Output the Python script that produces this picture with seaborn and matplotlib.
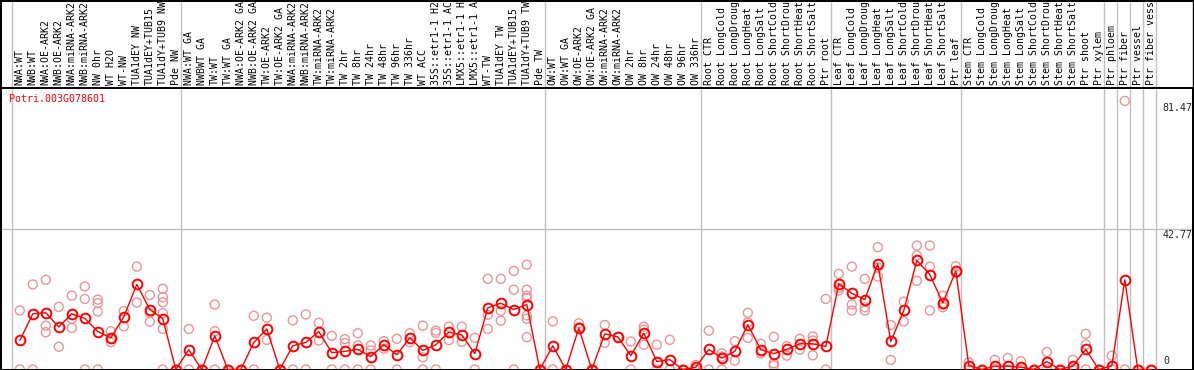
import matplotlib
matplotlib.use("Agg")
import matplotlib.pyplot as plt
import matplotlib.transforms as mtransforms
from matplotlib.lines import Line2D
import numpy as np
import pandas as pd
import seaborn as sns

# ---------------- data ----------------
categories = [
    "NWA:WT", "NWB:WT", "NWA:OE-ARK2", "NWB:OE-ARK2", "NWA:miRNA-ARK2", "NWB:miRNA-ARK2",
    "NW 0hr", "WT H2O", "WT-NW", "TUA1dEY NW", "TUA1dEY+TUB15", "TUA1dY+TUB9 NW", "Pde NW",
    "NWA:WT GA", "NWBWT GA", "TW:WT", "TW:WT GA", "NWA:OE-ARK2 GA", "NWB:OE-ARK2 GA",
    "TW:OE-ARK2", "TW:OE-ARK2 GA", "NWA:miRNA-ARK2", "NWB:miRNA-ARK2", "TW:miRNA-ARK2",
    "TW:miRNA-ARK2", "TW 2hr", "TW 8hr", "TW 24hr", "TW 48hr", "TW 96hr", "TW 336hr", "WT ACC",
    "35S::etr1-1 H2", "35S::etr1-1 AC", "LMX5::etr1-1 H", "LMX5::etr1-1 A", "WT-TW",
    "TUA1dEY TW", "TUA1dEY+TUB15", "TUA1dY+TUB9 TW", "Pde TW",
    "OW:WT", "OW:WT GA", "OW:OE-ARK2", "OW:OE-ARK2 GA", "OW:miRNA-ARK2", "OW:miRNA-ARK2",
    "OW 2hr", "OW 8hr", "OW 24hr", "OW 48hr", "OW 96hr", "OW 336hr",
    "Root CTR", "Root LongCold", "Root LongDroug", "Root LongHeat", "Root LongSalt",
    "Root ShortCold", "Root ShortDrou", "Root ShortHeat", "Root ShortSalt", "Ptr root",
    "Leaf CTR", "Leaf LongCold", "Leaf LongDroug", "Leaf LongHeat", "Leaf LongSalt",
    "Leaf ShortCold", "Leaf ShortDrou", "Leaf ShortHeat", "Leaf ShortSalt", "Ptr leaf",
    "Stem CTR", "Stem LongCold", "Stem LongDroug", "Stem LongHeat", "Stem LongSalt",
    "Stem ShortCold", "Stem ShortDrou", "Stem ShortHeat", "Stem ShortSalt", "Ptr shoot",
    "Ptr xylem",
    "Ptr phloem", "Ptr fiber", "Ptr vessel", "Ptr fiber vess",
]

mean_expr = [
    8.8, 16.9, 17.2, 12.9, 16.9, 15.5, 11.5, 9.6, 16.0, 25.8, 18.2, 15.4, 0,
    6.0, 0, 10.2, 0, 0, 8.2, 12.3, 0, 7.2, 8.2, 11.5, 5.1, 5.5, 6.1, 3.9, 7.5, 4.5, 9.6,
    5.8, 7.5, 11.3, 10.5, 4.8, 18.7, 20.1, 18.2, 19.7, 0,
    7.2, 0, 12.6, 0, 10.8, 9.9, 4.2, 11.0, 2.4, 3.0, 0, 0.7,
    6.1, 3.5, 5.5, 13.6, 6.0, 4.8, 6.1, 7.8, 7.8, 7.0,
    26.0, 23.1, 21.2, 32.1, 8.5, 17.9, 33.1, 28.8, 20.2, 29.9,
    1.2, 0, 1.0, 1.0, 0.7, 0, 2.4, 0, 1.0, 6.1, 0,
    1.1, 27.2, 0, 0,
]

replicates = [
    [17.9, 0], [25.8, 0], [27.2, 13.3, 11.3], [19.0, 6.9], [22.4, 15.4, 12.6],
    [25.2, 21.4, 0], [21.2, 20.1, 17.6, 0], [11.6, 9.3, 8.3], [17.7, 13.1], [31.2, 20.3],
    [22.6, 17.1, 14.5], [24.5, 21.9, 20.4, 17.1, 12.3, 0], [0],
    [12.3, 0], [0], [19.7, 11.6, 0], [0], [0], [16.3, 0], [15.7, 9.0], [0], [14.9, 0],
    [16.7, 0], [14.2, 8.8], [10.2, 0], [9.2, 8.0, 0], [11.0, 7.3, 0], [7.3, 5.8, 0],
    [8.6, 6.3], [9.3, 0], [11.0, 8.3], [13.3, 3.7, 0], [11.8, 11.1, 0], [13.0, 8.9],
    [13.0, 8.4], [9.6, 0], [27.5, 16.6, 12.3], [27.5, 17.8, 14.8], [29.9, 24.2, 0],
    [31.8, 24.2, 22.4, 21.6, 16.4, 15.4, 9.8], [0],
    [14.6, 0], [0], [14.0, 12.8], [0], [13.5, 8.1], [9.9], [8.5, 0], [13.0, 12.1, 7.5],
    [7.5, 0], [9.0, 0], [0], [1.4, 0],
    [11.8, 0], [4.9, 3.9, 0], [8.6, 2.7], [17.2, 14.3, 9.6], [7.8, 4.9], [9.9, 1.9, 1.2],
    [7.1, 4.2], [9.3, 6.0], [10.0, 8.8, 4.3], [21.4, 0],
    [29.0, 24.8, 24.0], [31.2, 19.7, 17.9], [27.5, 18.9, 17.9], [37.1, 31.0, 28.2],
    [13.5, 2.9], [20.6, 14.6], [37.6, 34.6, 26.9], [37.6, 31.2, 17.9], [22.4, 19.7, 18.9],
    [31.3, 29.2],
    [2.2, 0], [0], [2.9, 0], [3.5, 0], [2.5, 0], [0], [5.3, 0], [0], [2.9, 0],
    [10.8, 7.6, 0], [0],
    [4.2, 0], [81.47, 0], [0], [0],
]

group_starts = [0, 13, 41, 53, 63, 73, 84, 85, 86, 87, 88]
gene_id = "Potri.003G078601"
scale_values = [81.47, 42.77, 0]
grid_value = 42.77

# ---------------- layout ----------------
sns.set_style("white")
plt.rcParams['font.family'] = ['DejaVu Sans Mono', 'DejaVu Sans']

W, H = 1194, 370
fig = plt.figure(figsize=(W / 100, H / 100), dpi=100)
px_per_unit = 141 / 42.77
x0_px, step_px = 19.8, 13.0
left_px, right_px = 0.5, 1192.5
bottom_px, top_px = 0.5, 370 - 87.5
ax = fig.add_axes([left_px / W, bottom_px / H, (right_px - left_px) / W, (top_px - bottom_px) / H])
ax.set_xticks([])
ax.set_yticks([])
for s in ax.spines.values():
    s.set_color("black")
    s.set_linewidth(1.44)

def px_to_x(px):
    return (px + 0.5 - x0_px) / step_px

# separators
label_band = 87.5 / (top_px - bottom_px)
for g in group_starts:
    ax.axvline(g - 0.63, ymin=0, ymax=1 + label_band, color="#C0C0C0", lw=1.0,
               clip_on=False, zorder=1)
ax.axhline(grid_value, color="#C0C0C0", lw=1.0, zorder=1)

# replicates
rep_df = pd.DataFrame(
    [(i, v) for i, reps in enumerate(replicates) for v in reps], columns=["pos", "value"]
)
sns.scatterplot(data=rep_df, x="pos", y="value", ax=ax, marker="o", s=42,
                facecolors="none", edgecolor="#EA9696", linewidth=1.0, zorder=2,
                legend=False)

# means
mean_df = pd.DataFrame({"pos": np.arange(len(categories)), "value": mean_expr})
sns.lineplot(data=mean_df, x="pos", y="value", ax=ax, color="red", linewidth=1.0,
             marker="o", markersize=7, markerfacecolor="none", markeredgecolor="red",
             markeredgewidth=1.4, zorder=3, legend=False)
ax.set_xlabel("")
ax.set_ylabel("")
ax.set_xlim((left_px - x0_px) / step_px, (right_px - x0_px) / step_px)
ax.set_ylim(0, (top_px - bottom_px) / px_per_unit)

# category labels
blend = mtransforms.blended_transform_factory(ax.transData, ax.transAxes)
for i, lab in enumerate(categories):
    ax.annotate(lab, xy=(i, 1), xycoords=blend, xytext=(0, 2.5), textcoords="offset pixels",
                rotation=90, ha="center", va="bottom", fontsize=7.1, color="black",
                annotation_clip=False)

# scale labels
for v in scale_values:
    if v == 0:
        ax.annotate("0", xy=(px_to_x(1163), 0), xytext=(0, 4), textcoords="offset pixels",
                    ha="left", va="bottom", fontsize=7.2, annotation_clip=False)
    else:
        ax.annotate(f"{v:.2f}", xy=(px_to_x(1162), v), xytext=(0, -2),
                    textcoords="offset pixels", ha="left", va="top", fontsize=7.2,
                    annotation_clip=False)

ax.annotate(gene_id, xy=(0, 1), xycoords="axes fraction", xytext=(9, -6),
            textcoords="offset pixels", ha="left", va="top", fontsize=7.2, color="red")

# outer border
fig.add_artist(Line2D([0, right_px / W], [1 - 0.5 / H, 1 - 0.5 / H], color="black",
                      lw=1.44, transform=fig.transFigure))
fig.add_artist(Line2D([left_px / W, left_px / W], [0, 1], color="black",
                      lw=1.44, transform=fig.transFigure))
fig.add_artist(Line2D([right_px / W, right_px / W], [0, 1], color="black",
                      lw=1.0, transform=fig.transFigure))

fig.savefig("out.png", dpi=100)
